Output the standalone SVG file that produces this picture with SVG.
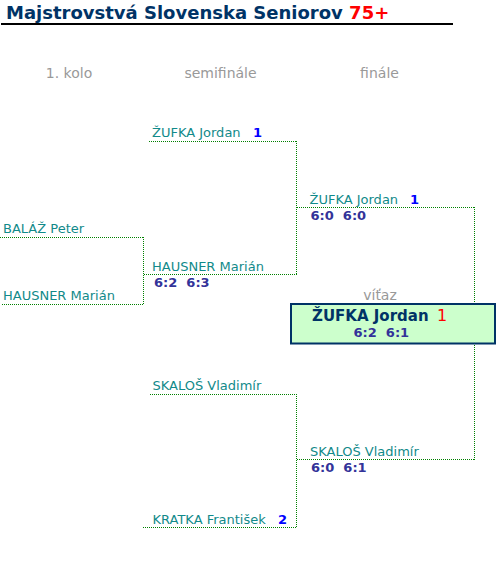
<svg xmlns="http://www.w3.org/2000/svg" width="496" height="568" viewBox="0 0 496 568">
<style>
.t{font-family:"DejaVu Sans",Verdana,sans-serif}
.title{font-size:18px;font-weight:bold;fill:#003366}
.hdr{font-size:14px;fill:#999999;text-anchor:middle}
.nm{font-size:13px;fill:#118a8a}
.sd{font-size:13px;font-weight:bold;fill:#0000ff}
.sc{font-size:13px;font-weight:bold;fill:#333399}
.ln{stroke:#008000;stroke-width:1;stroke-dasharray:1 1;fill:none}
</style>
<rect width="496" height="568" fill="#ffffff"/>
<g id="title">
<text class="t title" x="6" y="19">Majstrovstvá Slovenska Seniorov <tspan fill="#ff0000">75+</tspan></text>
<rect x="1" y="23" width="452" height="2" fill="#000000"/>
</g>
<g id="headers">
<text class="t hdr" x="69" y="78">1. kolo</text>
<text class="t hdr" x="220.5" y="78">semifinále</text>
<text class="t hdr" x="379.5" y="78">finále</text>
</g>
<g id="connectors">
<line class="ln" x1="0" y1="237.5" x2="144" y2="237.5"/>
<line class="ln" x1="2" y1="304.5" x2="144" y2="304.5"/>
<line class="ln" x1="143.5" y1="237" x2="143.5" y2="305"/>
<line class="ln" x1="144" y1="274.5" x2="297" y2="274.5"/>
<line class="ln" x1="149" y1="141.5" x2="297" y2="141.5"/>
<line class="ln" x1="296.5" y1="141" x2="296.5" y2="275"/>
<line class="ln" x1="297" y1="207.5" x2="475" y2="207.5"/>
<line class="ln" x1="297" y1="459.5" x2="475" y2="459.5"/>
<line class="ln" x1="474.5" y1="207" x2="474.5" y2="460"/>
<line class="ln" x1="150" y1="394.5" x2="297" y2="394.5"/>
<line class="ln" x1="143" y1="527.5" x2="297" y2="527.5"/>
<line class="ln" x1="296.5" y1="394" x2="296.5" y2="528"/>
</g>
<g id="r1-balaz"><text class="t nm" x="3" y="233">BALÁŽ Peter</text></g>
<g id="r1-hausner"><text class="t nm" x="3" y="300">HAUSNER Marián</text></g>
<g id="sf-zufka"><text class="t nm" x="152" y="137">ŽUFKA Jordan</text><text class="t sd" x="253" y="137">1</text></g>
<g id="sf-hausner"><text class="t nm" x="152" y="270.5">HAUSNER Marián</text><text class="t sc" x="154" y="287" xml:space="preserve">6:2  6:3</text></g>
<g id="sf-skalos"><text class="t nm" x="152.5" y="390">SKALOŠ Vladimír</text></g>
<g id="sf-kratka"><text class="t nm" x="152.5" y="523.5">KRATKA František</text><text class="t sd" x="278" y="523.5">2</text></g>
<g id="f-zufka"><text class="t nm" x="309.5" y="203.5">ŽUFKA Jordan</text><text class="t sd" x="410" y="203.5">1</text><text class="t sc" x="310.5" y="219.5" xml:space="preserve">6:0  6:0</text></g>
<g id="f-skalos"><text class="t nm" x="310" y="455.5">SKALOŠ Vladimír</text><text class="t sc" x="311" y="472" xml:space="preserve">6:0  6:1</text></g>
<g id="winner">
<text class="t hdr" x="380" y="300">víťaz</text>
<rect x="291" y="304" width="204" height="39.5" fill="#ccffcc" stroke="#003366" stroke-width="2"/>
<text class="t" x="312" y="321" font-size="15" font-weight="bold" fill="#003366">ŽUFKA Jordan</text>
<text class="t" x="437" y="321" font-size="16" fill="#ff0000">1</text>
<text class="t sc" x="353.5" y="337" fill="#003366" xml:space="preserve">6:2  6:1</text>
</g>
</svg>
